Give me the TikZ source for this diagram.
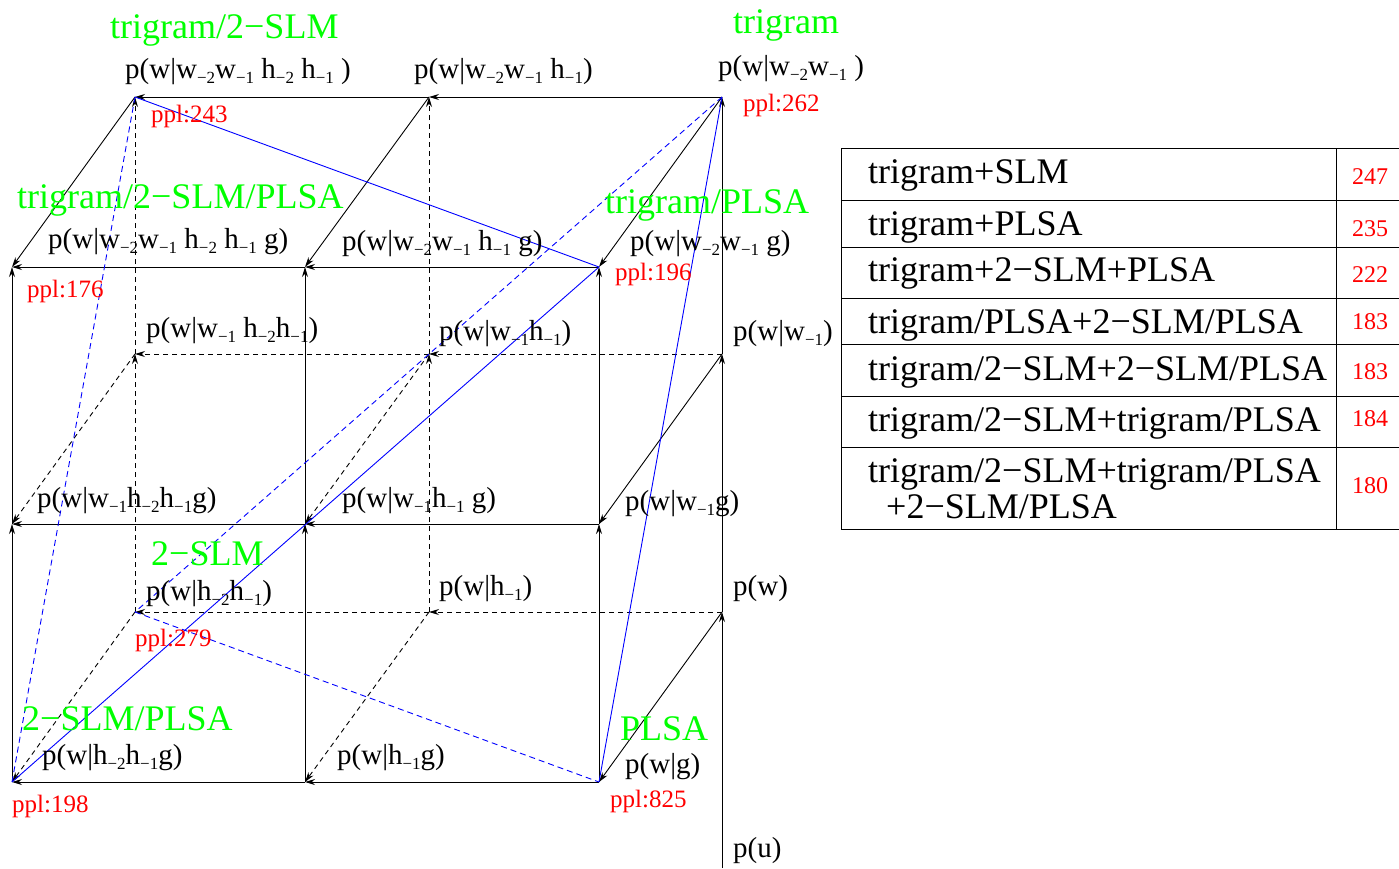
\documentclass[tikz,border=0pt]{standalone}
\usepackage{fontspec}
\setmainfont{Liberation Serif}
\usetikzlibrary{arrows.meta}
\definecolor{lgreen}{RGB}{0,255,0}
\newcommand\sbx[1]{\raisebox{-5pt}{\fontsize{17}{17}\selectfont #1}}
\begin{document}
\begin{tikzpicture}[x=1pt,y=-1pt,
  edge/.style={line width=0.9pt, -{Stealth[length=10pt,width=6pt]}},
  back/.style={edge, dash pattern=on 5pt off 4pt},
  blueline/.style={blue, line width=0.9pt},
  bluedash/.style={blueline, dash pattern=on 6pt off 4pt},
  lbl/.style={anchor=base west, inner sep=0pt, font=\fontsize{29}{30}\selectfont},
  mdl/.style={anchor=base west, inner sep=0pt, text=lgreen, font=\fontsize{36}{38}\selectfont},
  ppl/.style={anchor=base west, inner sep=0pt, text=red, font=\fontsize{25}{26}\selectfont},
  cell/.style={anchor=base west, inner sep=0pt, font=\fontsize{36}{38}\selectfont},
  num/.style={anchor=base, inner sep=0pt, text=red, font=\fontsize{24}{26}\selectfont},
  tline/.style={line width=0.9pt},
]
\useasboundingbox (0,0) rectangle (1399,868);
% back vertices
\coordinate (bA1) at (135,97);  \coordinate (bB1) at (429,97);  \coordinate (bC1) at (722,97);
\coordinate (bA2) at (135,354); \coordinate (bB2) at (429,354); \coordinate (bC2) at (722,354);
\coordinate (bA3) at (135,612); \coordinate (bB3) at (429,612); \coordinate (bC3) at (722,612);
\coordinate (u) at (722,868);
% front vertices
\coordinate (fA1) at (12,267);  \coordinate (fB1) at (305,267);  \coordinate (fC1) at (599,267);
\coordinate (fA2) at (12,524);  \coordinate (fB2) at (305,524);  \coordinate (fC2) at (599,524);
\coordinate (fA3) at (12,782);  \coordinate (fB3) at (305,782);  \coordinate (fC3) at (599,782);

% back plane
\draw[edge] (bC1) -- (bB1);
\draw[edge] (bB1) -- (bA1);
\draw[edge] (u) -- (bC3);
\draw[edge] (bC3) -- (bC2);
\draw[edge] (bC2) -- (bC1);
\draw[back] (bC2) -- (bB2);
\draw[back] (bB2) -- (bA2);
\draw[back] (bC3) -- (bB3);
\draw[back] (bB3) -- (bA3);
\draw[back] (bA3) -- (bA2);
\draw[back] (bA2) -- (bA1);
\draw[back] (bB3) -- (bB2);
\draw[back] (bB2) -- (bB1);
% diagonals
\draw[edge] (bA1) -- (fA1);
\draw[edge] (bB1) -- (fB1);
\draw[edge] (bC1) -- (fC1);
\draw[edge] (bC2) -- (fC2);
\draw[edge] (bC3) -- (fC3);
\draw[back] (bA2) -- (fA2);
\draw[back] (bB2) -- (fB2);
\draw[back] (bA3) -- (fA3);
\draw[back] (bB3) -- (fB3);
% front plane
\foreach \r in {1,2,3}{
  \draw[edge] (fC\r) -- (fB\r);
  \draw[edge] (fB\r) -- (fA\r);
}
\foreach \c in {A,B,C}{
  \draw[edge] (f\c3) -- (f\c2);
  \draw[edge] (f\c2) -- (f\c1);
}
% blue paths
\draw[blueline] (bA1) -- (fC1);
\draw[blueline] (bC1) -- (fC3);
\draw[blueline] (fC1) -- (fA3);
\draw[bluedash] (bC1) -- (bA3);
\draw[bluedash] (bA1) -- (fA3);
\draw[bluedash] (bA3) -- (fC3);

% model names
\node[mdl] (m1) at (110,38) {trigram/2−SLM};
\node[mdl] (m2) at (733,33) {trigram};
\node[mdl] (m3) at (17,208) {trigram/2−SLM/PLSA};
\node[mdl] (m4) at (605,213) {trigram/PLSA};
\node[mdl] (m5) at (151,565) {2−SLM};
\node[mdl] (m6) at (22,730) {2−SLM/PLSA};
\node[mdl] (m7) at (620,740) {PLSA};

% probability labels
\node[lbl] (l1) at (125,78) {p(w|w\sbx{−2}w\sbx{−1} h\sbx{−2} h\sbx{−1} )};
\node[lbl] (l2) at (414,78) {p(w|w\sbx{−2}w\sbx{−1} h\sbx{−1})};
\node[lbl] (l3) at (718,75) {p(w|w\sbx{−2}w\sbx{−1} )};
\node[lbl] (l4) at (48,248) {p(w|w\sbx{−2}w\sbx{−1} h\sbx{−2} h\sbx{−1} g)};
\node[lbl] (l5) at (342,250) {p(w|w\sbx{−2}w\sbx{−1} h\sbx{−1} g)};
\node[lbl] (l6) at (630,250) {p(w|w\sbx{−2}w\sbx{−1} g)};
\node[lbl] (l7) at (146,337) {p(w|w\sbx{−1} h\sbx{−2}h\sbx{−1})};
\node[lbl] (l8) at (439,340) {p(w|w\sbx{−1}h\sbx{−1})};
\node[lbl] (l9) at (733,340) {p(w|w\sbx{−1})};
\node[lbl] (l10) at (37,507) {p(w|w\sbx{−1}h\sbx{−2}h\sbx{−1}g)};
\node[lbl] (l11) at (342,507) {p(w|w\sbx{−1}h\sbx{−1} g)};
\node[lbl] (l12) at (625,510) {p(w|w\sbx{−1}g)};
\node[lbl] (l13) at (146,600) {p(w|h\sbx{−2}h\sbx{−1})};
\node[lbl] (l14) at (439,595) {p(w|h\sbx{−1})};
\node[lbl] (l15) at (733,595) {p(w)};
\node[lbl] (l16) at (42,764) {p(w|h\sbx{−2}h\sbx{−1}g)};
\node[lbl] (l17) at (337,764) {p(w|h\sbx{−1}g)};
\node[lbl] (l18) at (625,773) {p(w|g)};
\node[lbl] (l19) at (733,857) {p(u)};

% perplexities
\node[ppl] (r1) at (151,122) {ppl:243};
\node[ppl] (r2) at (743,111) {ppl:262};
\node[ppl] (r3) at (27,297) {ppl:176};
\node[ppl] (r4) at (615,280) {ppl:196};
\node[ppl] (r5) at (135,646) {ppl:279};
\node[ppl] (r6) at (12,812) {ppl:198};
\node[ppl] (r7) at (610,807) {ppl:825};

% table
\draw[tline] (841,148) -- (841,529);
\draw[tline] (1336,148) -- (1336,529);
\foreach \yy in {148,200,247,298,344,396,447,529}{
  \draw[tline] (841,\yy) -- (1399,\yy);
}
\node[cell] (t1) at (868,183) {trigram+SLM};
\node[cell] (t2) at (868,235) {trigram+PLSA};
\node[cell] (t3) at (868,281) {trigram+2−SLM+PLSA};
\node[cell] (t4) at (868,333) {trigram/PLSA+2−SLM/PLSA};
\node[cell] (t5) at (868,380) {trigram/2−SLM+2−SLM/PLSA};
\node[cell] (t6) at (868,431) {trigram/2−SLM+trigram/PLSA};
\node[cell] (t7) at (868,482) {trigram/2−SLM+trigram/PLSA};
\node[cell] (t8) at (886,518) {+2−SLM/PLSA};
\node[num] (n1) at (1370,184) {247};
\node[num] (n2) at (1370,236) {235};
\node[num] (n3) at (1370,282) {222};
\node[num] (n4) at (1370,329) {183};
\node[num] (n5) at (1370,379) {183};
\node[num] (n6) at (1370,426) {184};
\node[num] (n7) at (1370,493) {180};
\end{tikzpicture}
\end{document}
